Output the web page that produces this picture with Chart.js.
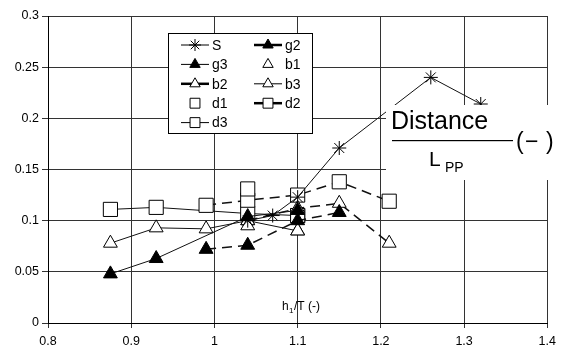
<!DOCTYPE html>
<html>
<head>
<meta charset="utf-8">
<script src="https://cdn.jsdelivr.net/npm/chart.js@4.4.0/dist/chart.umd.min.js"></script>
<style>
  body { margin: 0; background: #fff; }
  #wrap { position: relative; width: 562px; height: 352px; }
</style>
</head>
<body>
<div id="wrap"><canvas id="distChart" width="562" height="352"></canvas></div>
<script>
// series: h1/T on x, Distance/Lpp on y
const xS = [1.04, 1.07, 1.1, 1.15, 1.26, 1.32];
const yS = [0.100, 0.105, 0.123, 0.171, 0.240, 0.214];

const xG2 = [0.99, 1.04, 1.1, 1.15];
const yG2 = [0.072, 0.076, 0.100, 0.108];

const xG3 = [0.875, 0.93, 1.04, 1.1];
const yG3 = [0.048, 0.063, 0.104, 0.110];

const xB1 = [1.04, 1.1];
const yB1 = [0.095, 0.090];

const xB2 = [1.04, 1.1, 1.15, 1.21];
const yB2 = [0.100, 0.112, 0.117, 0.078];

const xB3 = [0.875, 0.93, 0.99, 1.04, 1.1];
const yB3 = [0.078, 0.093, 0.092, 0.100, 0.090];

const xD1 = [1.04, 1.1];
const yD1 = [0.131, 0.105];

const xD2 = [0.99, 1.04, 1.1, 1.15, 1.21];
const yD2 = [0.115, 0.120, 0.125, 0.138, 0.119];

const xD3 = [0.875, 0.93, 1.04, 1.1];
const yD3 = [0.111, 0.113, 0.107, 0.105];

const xTicks = [0.8, 0.9, 1, 1.1, 1.2, 1.3, 1.4];

const pts = (xs, ys) => xs.map((x, i) => ({x: x, y: ys[i]}));

const FONT = "'Liberation Sans', Arial, sans-serif";

function series(label, xs, ys, style, filled, line, dashed) {
        return {
                label: label,
                data: pts(xs, ys),
                pointStyle: style,
                pointRadius: style === 'rect' ? 10 : (style === 'star' ? 7 : 8),
                pointBorderWidth: 1,
                pointBorderColor: '#000',
                pointBackgroundColor: filled ? '#000' : '#fff',
                showLine: line,
                borderColor: '#111',
                borderWidth: dashed ? 1.5 : 1,
                borderDash: dashed ? [10, 6] : [],
                fill: false,
        };
}

const datasets = [
        series('S', xS, yS, 'star', false, true, false),
        series('g2', xG2, yG2, 'triangle', true, true, true),
        series('g3', xG3, yG3, 'triangle', true, true, false),
        series('b1', xB1, yB1, 'triangle', false, false, false),
        series('b2', xB2, yB2, 'triangle', false, true, true),
        series('b3', xB3, yB3, 'triangle', false, true, false),
        series('d1', xD1, yD1, 'rect', false, false, false),
        series('d2', xD2, yD2, 'rect', false, true, true),
        series('d3', xD3, yD3, 'rect', false, true, false),
];

// legend box drawn inside the plot
const boxLegend = {
        id: 'boxLegend',
        afterDraw(chart) {
                const ctx = chart.ctx;
                const bx = 168, by = 33, bw = 144, bh = 100;
                ctx.save();
                ctx.fillStyle = '#fff';
                ctx.fillRect(bx, by, bw, bh);
                ctx.strokeStyle = '#000';
                ctx.lineWidth = 1;
                ctx.strokeRect(bx + 0.5, by + 0.5, bw, bh);
                ctx.font = '14px ' + FONT;
                ctx.textBaseline = 'middle';
                chart.data.datasets.forEach((ds, i) => {
                        const col = i % 2, row = Math.floor(i / 2);
                        const lx = col === 0 ? 181 : 254;
                        const y = 45 + row * 19.4;
                        if (ds.showLine) {
                                ctx.beginPath();
                                ctx.strokeStyle = '#000';
                                ctx.lineWidth = ds.borderDash.length ? 2.5 : 1;
                                ctx.moveTo(lx, y);
                                ctx.lineTo(lx + 28, y);
                                ctx.stroke();
                        }
                        ctx.fillStyle = ds.pointBackgroundColor;
                        ctx.strokeStyle = '#000';
                        ctx.lineWidth = 1;
                        Chart.helpers.drawPoint(ctx, {
                                pointStyle: ds.pointStyle,
                                radius: ds.pointStyle === 'rect' ? 7 : 6,
                                rotation: 0,
                                borderWidth: 1,
                        }, lx + 14, y);
                        ctx.fillStyle = '#000';
                        ctx.textAlign = 'left';
                        ctx.fillText(ds.label, lx + 31, y + 1);
                });
                ctx.restore();
        },
};

// axis titles as in the original figure
const titles = {
        id: 'titles',
        afterDraw(chart) {
                const ctx = chart.ctx;
                ctx.save();
                ctx.fillStyle = '#000';
                ctx.textBaseline = 'alphabetic';
                ctx.textAlign = 'left';
                // x title inside plot
                ctx.font = '12px ' + FONT;
                ctx.fillText('h', 282, 310);
                ctx.font = '8px ' + FONT;
                ctx.fillText('1', 289, 313);
                ctx.font = '12px ' + FONT;
                ctx.fillText('/T (-)', 294, 310);

                // y title as a white label over the plot
                ctx.fillStyle = '#fff';
                ctx.fillRect(386, 105, 176, 75);
                ctx.fillStyle = '#000';
                ctx.font = '25px ' + FONT;
                ctx.fillText('Distance', 391, 129);
                ctx.fillRect(392, 140, 121, 1.2);
                ctx.font = '21px ' + FONT;
                ctx.fillText('L', 429, 166);
                ctx.font = '14px ' + FONT;
                ctx.fillText('PP', 445, 172);
                ctx.font = '23px ' + FONT;
                ctx.fillText('(', 516, 149);
                ctx.fillText('\u2212', 525, 149);
                ctx.fillText(')', 546, 149);
                ctx.restore();
        },
};

const config = {
        type: 'scatter',
        data: { datasets: datasets },
        options: {
                responsive: false,
                animation: false,
                devicePixelRatio: 1,
                layout: { padding: { top: 16, right: 10, left: 0, bottom: 0 } },
                plugins: {
                        legend: { display: false },
                        tooltip: { enabled: false },
                },
                scales: {
                        x: {
                                type: 'linear',
                                min: 0.8,
                                max: 1.4,
                                afterBuildTicks: (axis) => {
                                        axis.ticks = xTicks.map(v => ({value: v}));
                                },
                                afterFit: (axis) => { axis.height = 29; },
                                ticks: {
                                        color: '#000',
                                        font: { family: FONT, size: 12.5 },
                                        padding: 6,
                                        maxRotation: 0,
                                        callback: (v) => String(+v.toFixed(2)),
                                },
                                grid: { color: '#333', lineWidth: 1, tickLength: 5 },
                                border: { color: '#000', width: 1 },
                        },
                        y: {
                                min: 0,
                                max: 0.3,
                                afterFit: (axis) => { axis.width = 48; },
                                ticks: {
                                        stepSize: 0.05,
                                        color: '#000',
                                        font: { family: FONT, size: 12.5 },
                                        padding: 3,
                                        callback: (v) => String(+v.toFixed(2)),
                                },
                                grid: { color: '#333', lineWidth: 1, tickLength: 6 },
                                border: { color: '#000', width: 1 },
                        },
                },
        },
        plugins: [boxLegend, titles],
};

const distChart = new Chart(document.getElementById('distChart').getContext('2d'), config);
</script>
</body>
</html>
